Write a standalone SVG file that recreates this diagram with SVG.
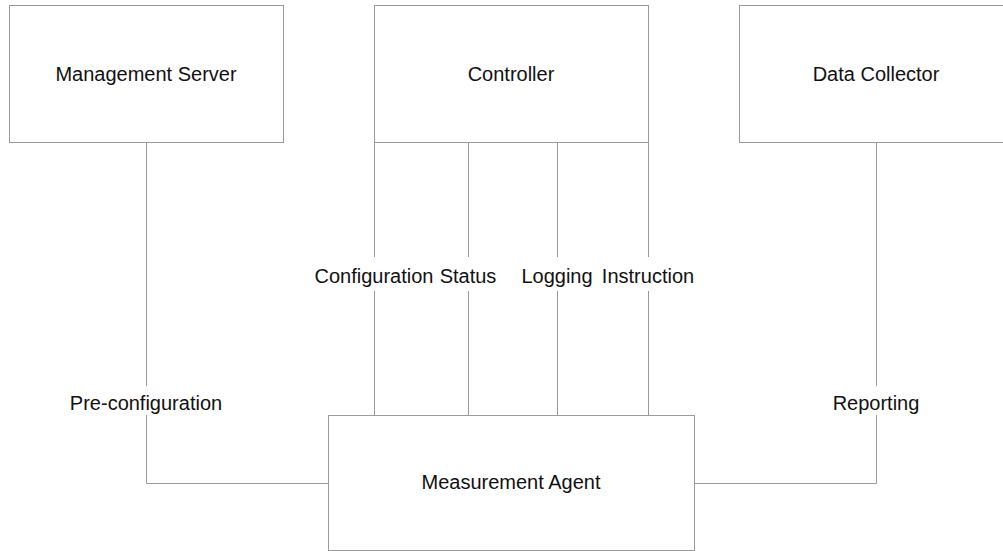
<svg xmlns="http://www.w3.org/2000/svg" width="1003" height="551" viewBox="0 0 1003 551">
<style>
.box{fill:#fff;stroke:#9a9a9a;stroke-width:1}
.ln{fill:none;stroke:#9a9a9a;stroke-width:1}
.t{font-family:"Liberation Sans",Arial,sans-serif;font-size:20px;fill:#111;text-anchor:middle;dominant-baseline:central}
.bg{fill:#fff}
</style>
<rect width="1003" height="551" fill="#fff"/>
<g id="connectors">
<polyline class="ln" points="146.5,142.5 146.5,483.5 328.5,483.5"/>
<polyline class="ln" points="876.5,142.5 876.5,483.5 694.5,483.5"/>
<line class="ln" x1="374.5" y1="142.5" x2="374.5" y2="415.5"/>
<line class="ln" x1="468.5" y1="142.5" x2="468.5" y2="415.5"/>
<line class="ln" x1="557.5" y1="142.5" x2="557.5" y2="415.5"/>
<line class="ln" x1="648.5" y1="142.5" x2="648.5" y2="415.5"/>
<rect class="bg" x="314" y="257" width="120" height="34"/>
<rect class="bg" x="439" y="257" width="58" height="34"/>
<rect class="bg" x="521" y="257" width="72" height="34"/>
<rect class="bg" x="602" y="257" width="93" height="34"/>
<rect class="bg" x="68" y="386" width="156" height="29"/>
<rect class="bg" x="832" y="386" width="88" height="29"/>
<text class="t" x="374" y="276">Configuration</text>
<text class="t" x="468" y="276">Status</text>
<text class="t" x="557" y="276">Logging</text>
<text class="t" x="648" y="276">Instruction</text>
<text class="t" x="146" y="403">Pre-configuration</text>
<text class="t" x="876" y="403">Reporting</text>
</g>
<g id="management-server">
<rect class="box" x="9.5" y="5.5" width="274" height="137"/>
<text class="t" x="146" y="74">Management Server</text>
</g>
<g id="controller">
<rect class="box" x="374.5" y="5.5" width="274" height="137"/>
<text class="t" x="511" y="74">Controller</text>
</g>
<g id="data-collector">
<rect class="box" x="739.5" y="5.5" width="274" height="137"/>
<text class="t" x="876" y="74">Data Collector</text>
</g>
<g id="measurement-agent">
<rect class="box" x="328.5" y="415.5" width="366" height="135"/>
<text class="t" x="511" y="482">Measurement Agent</text>
</g>
</svg>
